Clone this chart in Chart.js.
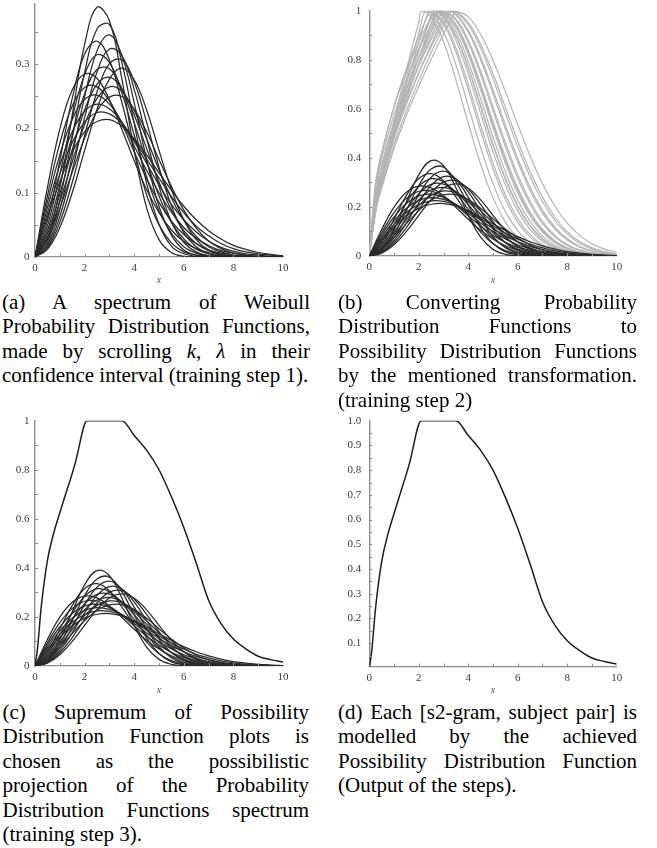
<!DOCTYPE html>
<html><head><meta charset="utf-8">
<script src="https://cdn.jsdelivr.net/npm/chart.js@4.4.1/dist/chart.umd.min.js"></script>
<style>
html,body{margin:0;padding:0;background:#fff;}
body{width:657px;height:848px;position:relative;overflow:hidden;}
canvas{position:absolute;}
.cap{position:absolute;font-family:'Liberation Serif','Times New Roman',serif;font-size:21px;line-height:24.5px;text-align:justify;color:#000;}
</style></head><body>
<canvas id="ca" width="300" height="286" style="left:0px;top:0px;width:300px;height:286px"></canvas>
<canvas id="cb" width="300" height="286" style="left:330px;top:0px;width:300px;height:286px"></canvas>
<canvas id="cc" width="300" height="286" style="left:0px;top:410px;width:300px;height:286px"></canvas>
<canvas id="cd" width="300" height="286" style="left:330px;top:410px;width:300px;height:286px"></canvas>
<div class="cap" style="left:2px;top:289.5px;width:308px">(a) A spectrum of Weibull Probability Distribution Functions, made by scrolling <i>k</i>, <i>λ</i> in their confidence interval (training step 1).</div>
<div class="cap" style="left:338px;top:289.5px;width:299px">(b) Converting Probability Distribution Functions to Possibility Distribution Functions by the mentioned transformation. (training step 2)</div>
<div class="cap" style="left:2.5px;top:699.5px;width:306.5px">(c) Supremum of Possibility Distribution Function plots is chosen as the possibilistic projection of the Probability Distribution Functions spectrum (training step 3).</div>
<div class="cap" style="left:338px;top:699.5px;width:299px">(d) Each [s2-gram, subject pair] is modelled by the achieved Possibility Distribution Function (Output of the steps).</div>
<script>
// ---------- data ----------
const xTicks = [0, 2, 4, 6, 8, 10];
const xMinorTicks = [1, 2, 3, 4, 5, 6, 7, 8, 9];
const yTicksA = [0, 0.1, 0.2, 0.3];
const yMinorA = [0.05, 0.1, 0.15, 0.2, 0.25, 0.3, 0.35];
const yTicksBC = [0, 0.2, 0.4, 0.6, 0.8, 1];
const yMinorBC = [0.1, 0.2, 0.3, 0.4, 0.5, 0.6, 0.7, 0.8, 0.9];
const yTicksD = [0.1, 0.2, 0.3, 0.4, 0.5, 0.6, 0.7, 0.8, 0.9, 1.0];
const yMinorD = [0.05, 0.1, 0.15, 0.2, 0.25, 0.3, 0.35, 0.4, 0.45, 0.5, 0.55, 0.6, 0.65, 0.7, 0.75, 0.8, 0.85, 0.9, 0.95];

// x positions of the probability curves
const xPdf = [0, 0.5, 1, 1.5, 2, 2.5, 3, 3.5, 4, 4.5, 5, 5.5, 6, 6.5, 7, 7.5, 8, 8.5, 9, 9.5, 10];

// Weibull probability distribution curves (shape k, scale lambda)
const pdfK20L30 = [0, .108, .199, .260, .285, .278, .245, .199, .150, .105, .069, .042, .024, .013, .007, .003, .001, .001, 0, 0, 0];
const pdfK20L32 = [0, .095, .177, .235, .264, .265, .243, .207, .164, .122, .085, .056, .035, .021, .011, .006, .003, .001, .001, 0, 0];
const pdfK20L34 = [0, .085, .159, .214, .245, .252, .238, .210, .173, .135, .100, .070, .046, .029, .018, .010, .006, .003, .001, .001, 0];
const pdfK20L36 = [0, .076, .143, .195, .227, .238, .231, .210, .180, .146, .112, .082, .058, .039, .025, .015, .009, .005, .003, .001, .001];
const pdfK20L38 = [0, .068, .129, .178, .210, .225, .223, .208, .183, .153, .123, .094, .069, .048, .033, .021, .013, .008, .005, .003, .001];
const pdfK20L40 = [0, .062, .117, .163, .195, .211, .214, .204, .184, .159, .131, .104, .079, .058, .041, .028, .018, .012, .007, .004, .002];
const pdfK25L30 = [0, .056, .150, .247, .316, .336, .307, .241, .165, .097, .050, .022, .008, .003, .001, 0, 0, 0, 0, 0, 0];
const pdfK25L32 = [0, .048, .129, .216, .284, .315, .303, .256, .190, .125, .072, .037, .016, .006, .002, .001, 0, 0, 0, 0, 0];
const pdfK25L34 = [0, .041, .112, .189, .254, .292, .293, .262, .209, .149, .095, .054, .028, .012, .005, .002, .001, 0, 0, 0, 0];
const pdfK25L36 = [0, .036, .098, .167, .229, .269, .280, .262, .221, .169, .117, .073, .041, .021, .010, .004, .002, .001, 0, 0, 0];
const pdfK25L38 = [0, .031, .086, .148, .206, .247, .265, .258, .228, .184, .136, .092, .057, .032, .016, .008, .003, .001, 0, 0, 0];
const pdfK25L40 = [0, .028, .076, .132, .185, .227, .249, .250, .230, .195, .152, .110, .073, .045, .025, .013, .006, .003, .001, 0, 0];
const pdfK30L30 = [0, .028, .107, .221, .331, .389, .368, .278, .166, .077, .027, .007, .001, 0, 0, 0, 0, 0, 0, 0, 0];
const pdfK30L32 = [0, .023, .089, .186, .287, .355, .362, .303, .208, .115, .051, .017, .005, .001, 0, 0, 0, 0, 0, 0, 0];
const pdfK30L34 = [0, .019, .074, .158, .249, .321, .346, .314, .240, .152, .079, .034, .011, .003, .001, 0, 0, 0, 0, 0, 0];
const pdfK30L36 = [0, .016, .063, .135, .217, .288, .324, .314, .261, .185, .110, .055, .023, .008, .002, 0, 0, 0, 0, 0, 0];
const pdfK30L38 = [0, .014, .054, .116, .189, .257, .301, .307, .273, .210, .140, .080, .038, .016, .005, .001, 0, 0, 0, 0, 0];
const pdfK30L40 = [0, .012, .046, .100, .166, .230, .277, .294, .276, .229, .166, .105, .058, .027, .011, .004, .001, 0, 0, 0, 0];

// x positions of the possibility curves, and where each one reaches its top
const grayX = [0, 0.25, 0.5, 1, 1.5, 2, 2.5, 3, 3.5, 4, 4.5, 5, 5.5, 6, 6.5, 7, 7.5, 8, 8.5, 9, 9.5, 10];
const grayPeakX = [2.12, 2.26, 2.40, 2.55, 2.69, 2.83, 2.45, 2.61, 2.77, 2.93, 3.10, 3.26, 2.62, 2.80, 2.97, 3.14, 3.32, 3.49];
const grayPeakValue = 1;

// possibility distribution curves
const posK20L30 = [0, .181, .315, .548, .758, .954, .975, .874, .718, .541, .374, .237, .138, .073, .036, .016, .007, .002, .001, 0, 0, 0];
const posK20L32 = [0, .180, .308, .529, .726, .909, .991, .915, .779, .611, .442, .295, .181, .103, .054, .026, .012, .005, .002, .001, 0, 0];
const posK20L34 = [0, .179, .304, .514, .700, .871, .998, .947, .831, .677, .510, .356, .231, .138, .077, .040, .019, .008, .003, .001, 0, 0];
const posK20L36 = [0, .179, .300, .500, .675, .835, .985, .972, .879, .741, .582, .425, .290, .184, .108, .060, .031, .015, .006, .003, .001, 0];
const posK20L38 = [0, .181, .298, .490, .657, .808, .949, .987, .915, .793, .642, .486, .344, .227, .141, .081, .044, .022, .010, .005, .002, .001];
const posK20L40 = [0, .183, .297, .483, .641, .784, .917, .996, .944, .840, .701, .548, .403, .278, .179, .109, .062, .033, .017, .008, .003, .001];
const posK25L30 = [0, .285, .417, .611, .763, .894, .999, .956, .848, .699, .534, .379, .250, .153, .087, .046, .022, .010, .004, .002, .001, 0];
const posK25L32 = [0, .295, .423, .607, .750, .871, .978, .979, .896, .764, .608, .451, .313, .202, .122, .068, .036, .018, .008, .003, .001, 0];
const posK25L34 = [0, .273, .397, .577, .718, .839, .946, .993, .933, .821, .677, .523, .379, .257, .163, .097, .054, .028, .014, .006, .003, .001];
const posK25L36 = [0, .252, .372, .548, .687, .807, .915, .999, .961, .869, .740, .592, .446, .316, .211, .132, .078, .043, .023, .011, .005, .002];
const posK25L38 = [0, .232, .347, .519, .656, .776, .883, .981, .982, .912, .800, .662, .518, .383, .267, .176, .110, .065, .036, .019, .009, .004];
const posK25L40 = [0, .214, .325, .492, .628, .746, .853, .951, .994, .943, .848, .722, .583, .446, .324, .222, .145, .089, .052, .029, .015, .008];
const posK30L30 = [0, .233, .358, .550, .708, .846, .971, .980, .899, .769, .614, .457, .318, .206, .125, .071, .037, .018, .008, .004, .001, 0];
const posK30L32 = [0, .218, .338, .523, .675, .809, .931, .995, .939, .831, .690, .537, .392, .268, .172, .104, .059, .031, .015, .007, .003, .001];
const posK30L34 = [0, .205, .320, .498, .646, .776, .896, 1.0, .967, .880, .754, .608, .462, .331, .223, .141, .084, .047, .025, .012, .006, .003];
const posK30L36 = [0, .193, .303, .475, .619, .746, .862, .971, .986, .920, .812, .677, .534, .398, .280, .187, .118, .070, .039, .021, .011, .005];
const posK30L38 = [0, .181, .287, .453, .592, .716, .829, .935, .997, .952, .863, .743, .606, .469, .344, .240, .159, .099, .059, .033, .018, .009];
const posK30L40 = [0, .176, .277, .438, .573, .692, .802, .905, 1.0, .975, .904, .798, .670, .536, .408, .296, .204, .134, .084, .050, .028, .015];

// supremum of the possibility curves
const supX = [0, 0.1, 0.25, 0.5, 0.75, 1, 1.25, 1.5, 1.63, 2.1, 3.5, 4, 4.5, 5, 5.5, 6, 6.5, 7, 7.5, 8, 8.5, 9, 9.5, 10];
const supY = [0, 0.07, 0.24, 0.43, 0.54, 0.625, 0.705, 0.785, 0.83, 1, 1, 0.94, 0.88, 0.80, 0.69, 0.565, 0.42, 0.268, 0.173, 0.11, 0.07, 0.04, 0.026, 0.016];

// ---------- building ----------
const pdfCurves = [pdfK20L30, pdfK20L32, pdfK20L34, pdfK20L36, pdfK20L38, pdfK20L40,
  pdfK25L30, pdfK25L32, pdfK25L34, pdfK25L36, pdfK25L38, pdfK25L40,
  pdfK30L30, pdfK30L32, pdfK30L34, pdfK30L36, pdfK30L38, pdfK30L40];
const posCurves = [posK20L30, posK20L32, posK20L34, posK20L36, posK20L38, posK20L40,
  posK25L30, posK25L32, posK25L34, posK25L36, posK25L38, posK25L40,
  posK30L30, posK30L32, posK30L34, posK30L36, posK30L38, posK30L40];

const FONT = "'Liberation Serif','Times New Roman',serif";
const BLACK = '#2a2a2a', GRAY = '#b4b4b4', AXIS = '#8c8c8c', TICK = '#3a3a3a';

function pdfSets() {
  return pdfCurves.map(ys => ({
    data: xPdf.map((x, i) => ({x: x, y: ys[i]})),
    borderColor: BLACK, borderWidth: 1.25, tension: 0.4, order: 0
  }));
}
function posSets() {
  return posCurves.map((ys, j) => {
    const pts = grayX.map((x, i) => ({x: x, y: ys[i]}));
    pts.push({x: grayPeakX[j], y: grayPeakValue});
    pts.sort((a, b) => a.x - b.x);
    return {data: pts, borderColor: GRAY, borderWidth: 1.2, tension: 0.4, order: 1};
  });
}
function supSet() {
  return [{
    data: supX.map((x, i) => ({x: x, y: supY[i]})),
    borderColor: '#1e1e1e', borderWidth: 1.5, cubicInterpolationMode: 'monotone', order: 0
  }];
}

// small inward tick marks along both axes, placed through the scales
const innerTicks = {
  id: 'innerTicks',
  afterDraw(chart, args, opts) {
    const {ctx, chartArea: ca, scales: {x, y}} = chart;
    ctx.save();
    ctx.strokeStyle = AXIS;
    ctx.lineWidth = 1;
    ctx.beginPath();
    opts.xs.forEach(v => {
      const px = Math.round(x.getPixelForValue(v)) + 0.5;
      ctx.moveTo(px, ca.bottom); ctx.lineTo(px, ca.bottom - 3);
    });
    opts.ys.forEach(v => {
      const py = Math.round(y.getPixelForValue(v)) + 0.5;
      ctx.moveTo(ca.left, py); ctx.lineTo(ca.left + 3, py);
    });
    ctx.stroke();
    ctx.restore();
  }
};

function panel(id, o) {
  return new Chart(document.getElementById(id), {
    type: 'line',
    data: {datasets: o.datasets},
    plugins: [innerTicks],
    options: {
      responsive: false, animation: false, devicePixelRatio: 1,
      layout: {padding: {top: o.padTop, right: o.padRight, left: 0, bottom: 0}},
      plugins: {legend: {display: false}, tooltip: {enabled: false}, title: {display: false},
                innerTicks: {xs: xMinorTicks, ys: o.yMinor}},
      elements: {point: {radius: 0}, line: {fill: false}},
      scales: {
        x: {
          type: 'linear', min: 0, max: 10,
          grid: {display: true, drawOnChartArea: false, drawTicks: false},
          border: {display: true, color: AXIS, width: 1.2},
          ticks: {font: {family: FONT, size: 11}, color: TICK, padding: o.xPad, maxRotation: 0, autoSkip: false},
          afterBuildTicks: s => { s.ticks = xTicks.map(v => ({value: v})); },
          title: {display: true, text: 'x', font: {family: FONT, size: 10, style: 'italic'}, color: '#555', padding: {top: 0, bottom: 0}},
          afterFit: s => { s.height = o.xHeight; s.paddingLeft = 0; s.paddingRight = 0; }
        },
        y: {
          type: 'linear', min: o.yMin, max: o.yMax,
          grid: {display: true, drawOnChartArea: false, drawTicks: false},
          border: {display: true, color: AXIS, width: 1.4},
          ticks: {font: {family: FONT, size: 11}, color: TICK, padding: o.yPad, autoSkip: false,
                  callback: o.fmt},
          afterBuildTicks: s => { s.ticks = o.yTicks.map(v => ({value: v})); },
          afterFit: s => { s.width = o.yWidth; s.paddingTop = 0; s.paddingBottom = 0; }
        }
      }
    }
  });
}

const fmtPlain = v => (v === 0 ? '0' : (v === 1 ? '1' : String(v)));
const fmtOne = v => v.toFixed(1);

panel('ca', {datasets: pdfSets(), yMin: 0, yMax: 0.394, yTicks: yTicksA, yMinor: yMinorA, fmt: fmtPlain,
  padTop: 4, padRight: 17, yWidth: 35, xHeight: 29, xPad: 4.4, yPad: 5.5});
panel('cb', {datasets: pdfSets().concat(posSets()), yMin: 0, yMax: 1, yTicks: yTicksBC, yMinor: yMinorBC, fmt: fmtPlain,
  padTop: 10.7, padRight: 13.3, yWidth: 39.3, xHeight: 30, xPad: 4.1, yPad: 8});
panel('cc', {datasets: supSet().concat(pdfSets()), yMin: 0, yMax: 1, yTicks: yTicksBC, yMinor: yMinorBC, fmt: fmtPlain,
  padTop: 10.7, padRight: 17, yWidth: 35, xHeight: 30, xPad: 4.1, yPad: 5.5});
panel('cd', {datasets: supSet(), yMin: 0.005, yMax: 1, yTicks: yTicksD, yMinor: yMinorD, fmt: fmtOne,
  padTop: 10.7, padRight: 13.3, yWidth: 39.3, xHeight: 29.3, xPad: 5, yPad: 8});
</script>
</body></html>
